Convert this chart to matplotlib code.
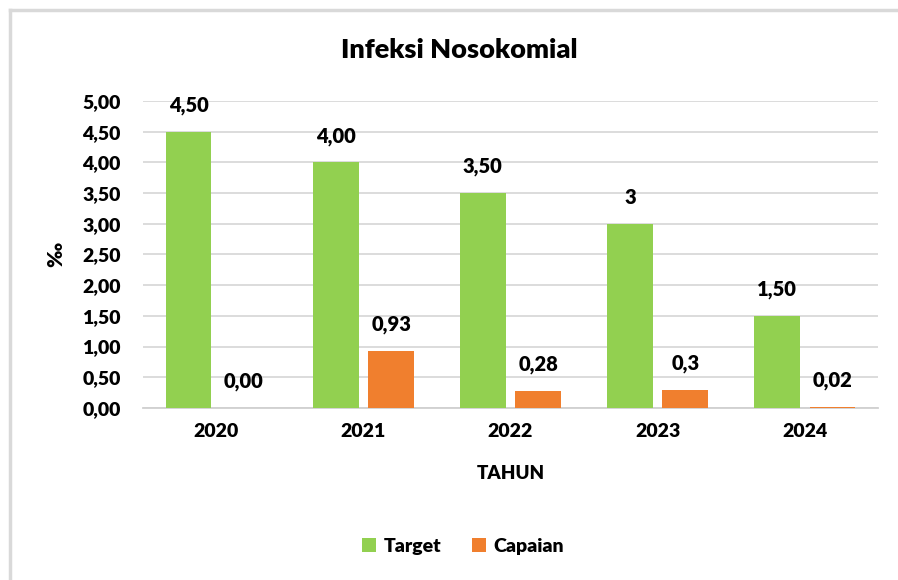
import numpy as np
import matplotlib.pyplot as plt
from matplotlib.lines import Line2D

plt.rcParams['font.family'] = ['Lato', 'DejaVu Sans']

# Data
tahun = ['2020', '2021', '2022', '2023', '2024']
target = [4.50, 4.00, 3.50, 3.00, 1.50]
capaian = [0.00, 0.93, 0.28, 0.30, 0.02]
label_target = ['4,50', '4,00', '3,50', '3', '1,50']
label_capaian = ['0,00', '0,93', '0,28', '0,3', '0,02']
yticks = [0, 0.5, 1, 1.5, 2, 2.5, 3, 3.5, 4, 4.5, 5]

hijau = '#92d050'
oranye = '#f07f2e'
tebal = 'heavy'

fig = plt.figure(figsize=(8.98, 5.80), dpi=100)
ax = fig.add_axes([0.159, 0.2966, 0.819, 0.5294])

x = np.arange(len(tahun))
w = 0.31
ax.bar(x - 0.188, target, width=w, color=hijau, label='Target', zorder=3)
ax.bar(x + 0.188, capaian, width=w, color=oranye, label='Capaian', zorder=3)

# Label data
for i in range(len(tahun)):
    ax.annotate(label_target[i], (x[i] - 0.188, target[i]), xytext=(0, 12),
                textcoords='offset points', ha='center', va='bottom',
                fontsize=14.5, fontweight=tebal, color='black')
    ax.annotate(label_capaian[i], (x[i] + 0.188, capaian[i]), xytext=(0, 12),
                textcoords='offset points', ha='center', va='bottom',
                fontsize=14.5, fontweight=tebal, color='black')

ax.set_xlim(-0.5, len(tahun) - 0.5)
ax.set_ylim(0, 5)
ax.set_yticks(yticks)
ax.set_yticklabels([f'{v:.2f}'.replace('.', ',') for v in yticks],
                   fontsize=14, fontweight=tebal)
ax.set_xticks(x)
ax.set_xticklabels(tahun, fontsize=14, fontweight=tebal)
ax.tick_params(length=0, pad=11)
ax.tick_params(axis='y', pad=16)

ax.grid(axis='y', color='#d9d9d9', linewidth=1.3, zorder=0)
for s in ['top', 'right', 'left']:
    ax.spines[s].set_visible(False)
ax.spines['bottom'].set_color('#d0d0d0')
ax.spines['bottom'].set_linewidth(1.3)

ax.set_xlabel('TAHUN', fontsize=13.5, fontweight=tebal, labelpad=18)
ax.set_ylabel('‰', fontsize=15, fontweight=tebal, labelpad=12)

fig.suptitle('Infeksi Nosokomial', x=0.511, y=0.935, fontsize=19.5, fontweight=tebal)

fig.legend(loc='center', bbox_to_anchor=(0.516, 0.058), ncol=2, frameon=False,
           prop={'weight': tebal, 'size': 14},
           handlelength=0.7, handleheight=0.7, columnspacing=1.6, handletextpad=0.4)

# Bingkai chart (kiri dan atas)
x0, y0 = 10 / 898, 1 - 10 / 580
fig.add_artist(Line2D([x0, x0], [0, y0], transform=fig.transFigure,
                      color='#d9d9d9', linewidth=2.5))
fig.add_artist(Line2D([x0, 1], [y0, y0], transform=fig.transFigure,
                      color='#d9d9d9', linewidth=2.5))

fig.savefig('out.png', dpi=100)
